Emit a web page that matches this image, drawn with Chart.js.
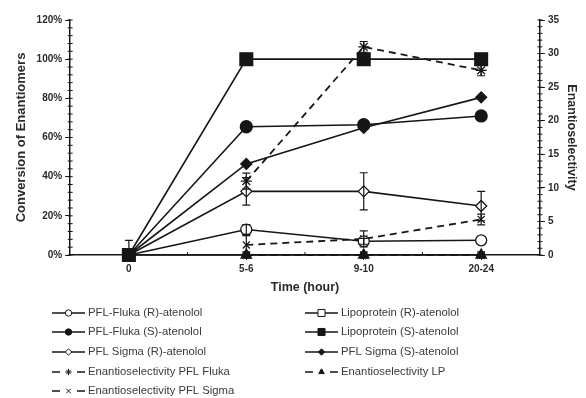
<!DOCTYPE html>
<html>
<head>
<meta charset="utf-8">
<script src="https://cdn.jsdelivr.net/npm/chart.js@4.4.1/dist/chart.umd.min.js"></script>
<style>
  html, body { margin: 0; padding: 0; background: #fff; }
  #wrap { width: 586px; height: 398px; }
</style>
</head>
<body>
<div id="wrap"><canvas id="chart"></canvas></div>
<script>
// ── DATA ────────────────────────────────────────────────────────────────────
const times = ['0', '5-6', '9-10', '20-24'];

// conversion (%), left axis
const flukaR = [0, 13, 7, 7.5];
const flukaRErr = [0, 2.5, 1.5, 0];
const flukaS = [0, 65.5, 66.5, 71];
const sigmaR = [0, 32.5, 32.5, 25];
const sigmaRErr = [7.5, 7, 9.5, 7.5];
const sigmaS = [0, 46.5, 65, 80.5];
const lipoR = [0, 0, 0, 0];
const lipoS = [0, 100, 100, 100];

// enantioselectivity (E), right axis
const eFluka = [null, 11, 31, 27.5];
const eFlukaErr = [0, 1.2, 0.8, 0.8];
const eSigma = [null, 1.5, 2.4, 5.3];
const eSigmaErr = [0, 1.4, 1.2, 0.8];
const eLP = [null, 0, 0, 0];

const convTicks = [0, 20, 40, 60, 80, 100, 120];
const eTicks = [0, 5, 10, 15, 20, 25, 30, 35];

const INK = '#161616';
const TXT = '#2a2a2a';

function solid(label, data, style, fill, radius, extra) {
  return Object.assign({
    label, data, yAxisID: 'y',
    borderColor: INK, borderWidth: 1.6,
    pointStyle: style, pointRadius: radius,
    pointBackgroundColor: fill, pointBorderColor: INK, pointBorderWidth: 1.3,
    tension: 0, clip: false
  }, extra || {});
}
function dashed(label, data, style, fill, radius, extra) {
  return Object.assign(solid(label, data, style, fill, radius), {
    yAxisID: 'y2', borderDash: [7, 5], borderWidth: 1.8
  }, extra || {});
}

// drawn first in the array = drawn on top
const datasets = [
  solid('Lipoprotein (S)-atenolol', lipoS, 'rect', INK, 9, { key: 'lipoS' }),
  dashed('Enantioselectivity LP', eLP, 'triangle', INK, 6, { key: 'eLP' }),
  solid('PFL-Fluka (S)-atenolol', flukaS, 'circle', INK, 6, { key: 'flukaS' }),
  solid('PFL Sigma (S)-atenolol', sigmaS, 'rectRot', INK, 5.5, { key: 'sigmaS' }),
  solid('PFL-Fluka (R)-atenolol', flukaR, 'circle', '#fff', 5.5, { key: 'flukaR', errors: flukaRErr }),
  solid('PFL Sigma (R)-atenolol', sigmaR, 'rectRot', '#fff', 5.5, { key: 'sigmaR', errors: sigmaRErr }),
  dashed('Enantioselectivity PFL Fluka', eFluka, 'star', INK, 5.5, { key: 'eFluka', errors: eFlukaErr }),
  dashed('Enantioselectivity PFL Sigma', eSigma, 'crossRot', INK, 5, { key: 'eSigma', errors: eSigmaErr }),
  solid('Lipoprotein (R)-atenolol', lipoR, 'rect', '#fff', 4.5, { key: 'lipoR' })
];

const legendOrder = ['flukaR', 'lipoR', 'flukaS', 'lipoS', 'sigmaR', 'sigmaS', 'eFluka', 'eLP', 'eSigma'];

// ── PLUGINS ─────────────────────────────────────────────────────────────────
const errorBars = {
  id: 'errorBars',
  afterDatasetsDraw(chart) {
    const ctx = chart.ctx;
    chart.data.datasets.forEach((ds, i) => {
      if (!ds.errors) return;
      const sc = chart.scales[ds.yAxisID];
      const meta = chart.getDatasetMeta(i);
      ctx.save();
      ctx.strokeStyle = INK;
      ctx.lineWidth = 1.2;
      ds.errors.forEach((e, j) => {
        if (!e || ds.data[j] == null) return;
        const x = meta.data[j].x;
        const top = sc.getPixelForValue(ds.data[j] + e);
        const bot = sc.getPixelForValue(Math.max(0, ds.data[j] - e));
        ctx.beginPath();
        ctx.moveTo(x, top); ctx.lineTo(x, bot);
        ctx.moveTo(x - 4, top); ctx.lineTo(x + 4, top);
        ctx.moveTo(x - 4, bot); ctx.lineTo(x + 4, bot);
        ctx.stroke();
      });
      ctx.restore();
    });
  }
};

const minorTicks = {
  id: 'minorTicks',
  afterDraw(chart) {
    const ctx = chart.ctx;
    const { y, y2, x } = chart.scales;
    ctx.save();
    ctx.strokeStyle = INK;
    ctx.lineWidth = 1;
    ctx.beginPath();
    for (let v = 0; v <= 120; v += 4) {
      const p = y.getPixelForValue(v);
      ctx.moveTo(y.right - 2.5, p); ctx.lineTo(y.right + 2.5, p);
    }
    for (let v = 0; v <= 35; v += 1) {
      const p = y2.getPixelForValue(v);
      ctx.moveTo(y2.left - 2.5, p); ctx.lineTo(y2.left + 2.5, p);
    }
    for (let i = 0; i < times.length - 1; i++) {
      const p = (x.getPixelForTick(i) + x.getPixelForTick(i + 1)) / 2;
      ctx.moveTo(p, x.top); ctx.lineTo(p, x.top - 3);
    }
    ctx.stroke();
    ctx.restore();
  }
};

const gridLegend = {
  id: 'gridLegend',
  afterDraw(chart) {
    const ctx = chart.ctx;
    const colX = [52, 305];
    const rowY = [313, 332, 352, 372, 391];
    ctx.save();
    ctx.font = '11.3px "Liberation Sans", Arial, sans-serif';
    ctx.textBaseline = 'middle';
    legendOrder.forEach((key, n) => {
      const ds = chart.data.datasets.find(d => d.key === key);
      const x0 = colX[n % 2];
      const yy = rowY[Math.floor(n / 2)];
      ctx.strokeStyle = INK;
      ctx.lineWidth = 1.7;
      ctx.beginPath();
      if (ds.borderDash) {
        ctx.moveTo(x0, yy); ctx.lineTo(x0 + 8, yy);
        ctx.moveTo(x0 + 25, yy); ctx.lineTo(x0 + 33, yy);
      } else {
        ctx.moveTo(x0, yy); ctx.lineTo(x0 + 33, yy);
      }
      ctx.stroke();
      ctx.fillStyle = ds.pointBackgroundColor;
      ctx.lineWidth = 1;
      Chart.helpers.drawPoint(ctx, {
        pointStyle: ds.pointStyle,
        radius: ds.pointStyle === 'rect' ? 5 : 3.2,
        rotation: 0, borderWidth: 1
      }, x0 + 16.5, yy);
      ctx.fillStyle = '#3a3a3a';
      ctx.fillText(ds.label, x0 + 36, yy);
    });
    ctx.restore();
  }
};

// ── CHART ───────────────────────────────────────────────────────────────────
const tickFont = { family: '"Liberation Sans", Arial, sans-serif', size: 10, weight: 'bold' };
const titleFont = { family: '"Liberation Sans", Arial, sans-serif', size: 13, weight: 'bold' };
const axisGrid = { display: true, drawOnChartArea: false, drawTicks: true, tickLength: 5, color: INK };
const axisBorder = { display: true, color: INK, width: 1.5 };

new Chart(document.getElementById('chart'), {
  type: 'line',
  data: { labels: times, datasets },
  plugins: [errorBars, minorTicks, gridLegend],
  options: {
    responsive: true, maintainAspectRatio: false, animation: false,
    layout: { padding: { top: 20, left: 10, right: 6, bottom: 99 } },
    plugins: { legend: { display: false }, tooltip: { enabled: false } },
    scales: {
      x: {
        type: 'category', offset: true,
        grid: axisGrid, border: axisBorder,
        ticks: { color: TXT, font: tickFont, padding: 3 },
        title: { display: true, text: 'Time (hour)', color: TXT, font: { ...titleFont, size: 12.5 }, padding: { top: 2 } }
      },
      y: {
        position: 'left', min: 0, max: 120,
        afterBuildTicks: s => { s.ticks = convTicks.map(v => ({ value: v })); },
        grid: axisGrid, border: axisBorder,
        ticks: { color: TXT, font: tickFont, padding: 3, callback: v => v + '%' },
        title: { display: true, text: 'Conversion of Enantiomers', color: TXT, font: titleFont, padding: 4 }
      },
      y2: {
        position: 'right', min: 0, max: 35,
        afterBuildTicks: s => { s.ticks = eTicks.map(v => ({ value: v })); },
        grid: axisGrid, border: axisBorder,
        ticks: { color: TXT, font: tickFont, padding: 3 },
        title: { display: true, text: 'Enantioselectivity', color: TXT, font: { ...titleFont, size: 12.5 }, padding: { top: 1, bottom: 2 } }
      }
    }
  }
});
</script>
</body>
</html>
